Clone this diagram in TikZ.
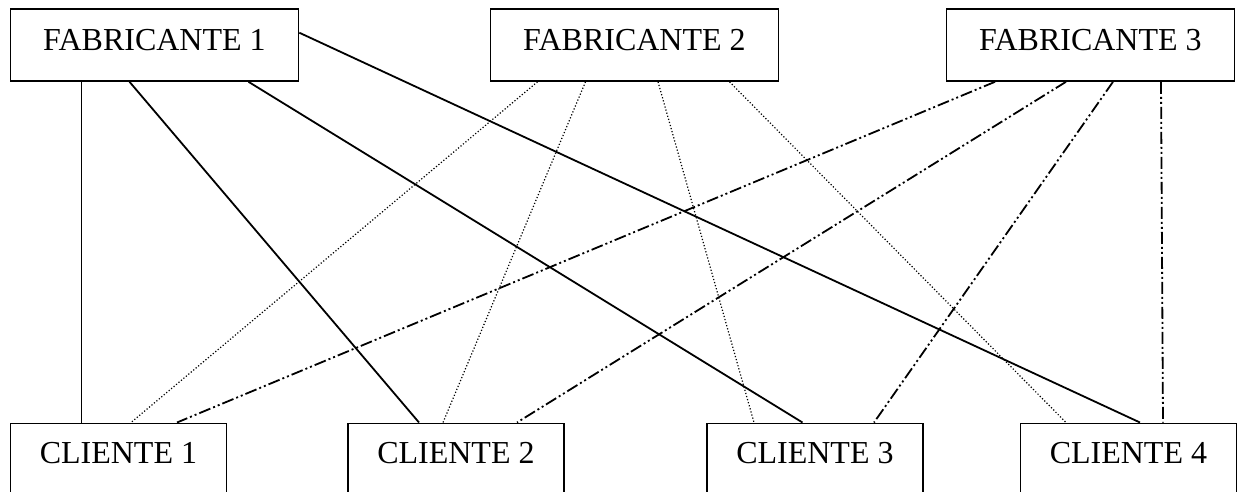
\documentclass[tikz,border=0pt]{standalone}
\usepackage{fontspec}
\setmainfont{Liberation Serif}

\begin{document}
\begin{tikzpicture}[x=1pt, y=-1pt,
  box/.style={draw, line width=1.8pt, inner sep=0pt, anchor=north west,
    font=\fontsize{32}{36}\selectfont},
  fab/.style={box, minimum width=288pt, text height=42pt, text depth=30pt},
  cli/.style={box, minimum width=216pt, text height=40pt, text depth=38pt},
  solidline/.style={line width=1.8pt},
  dotline/.style={line width=1.2pt, dash pattern=on 1.2pt off 2pt},
  dashdotdot/.style={line width=1.8pt, dash pattern=on 12pt off 3pt on 2pt off 3pt on 2pt off 3pt}]
\useasboundingbox (0,0) rectangle (1237,491);
\clip (0,0) rectangle (1237,491);

\node[fab] (f1) at (9.5,8) {FABRICANTE 1};
\node[fab] (f2) at (489.5,8) {FABRICANTE 2};
\node[fab] (f3) at (945.5,8) {FABRICANTE 3};

\node[cli] (c1) at (9.5,422.5) {CLIENTE 1};
\node[cli] (c2) at (347,422.5) {CLIENTE 2};
\node[cli] (c3) at (706,422.5) {CLIENTE 3};
\node[cli] (c4) at (1019.5,422.5) {CLIENTE 4};

\draw[solidline] ([xshift=72pt]f1.south west) -- ([xshift=72pt]c1.north west);
\draw[solidline] ([xshift=120pt]f1.south west) -- ([xshift=72pt]c2.north west);
\draw[solidline] ([xshift=239pt]f1.south west) -- ([xshift=96.5pt]c3.north west);
\draw[solidline] ([yshift=-24.7pt]f1.north east) -- ([xshift=120.5pt]c4.north west);

\draw[dotline] ([xshift=48pt]f2.south west) -- ([xshift=121.5pt]c1.north west);
\draw[dotline] ([xshift=96pt]f2.south west) -- ([xshift=96pt]c2.north west);
\draw[dotline] ([xshift=168.5pt]f2.south west) -- ([xshift=48pt]c3.north west);
\draw[dotline] ([xshift=240pt]f2.south west) -- ([xshift=46.5pt]c4.north west);

\draw[dashdotdot] ([xshift=49.5pt]f3.south west) -- ([xshift=167.5pt]c1.north west);
\draw[dashdotdot] ([xshift=120.5pt]f3.south west) -- ([xshift=170pt]c2.north west);
\draw[dashdotdot] ([xshift=167.5pt]f3.south west) -- ([xshift=168pt]c3.north west);
\draw[dashdotdot] ([xshift=215.5pt]f3.south west) -- ([xshift=143.5pt]c4.north west);

\end{tikzpicture}
\end{document}
